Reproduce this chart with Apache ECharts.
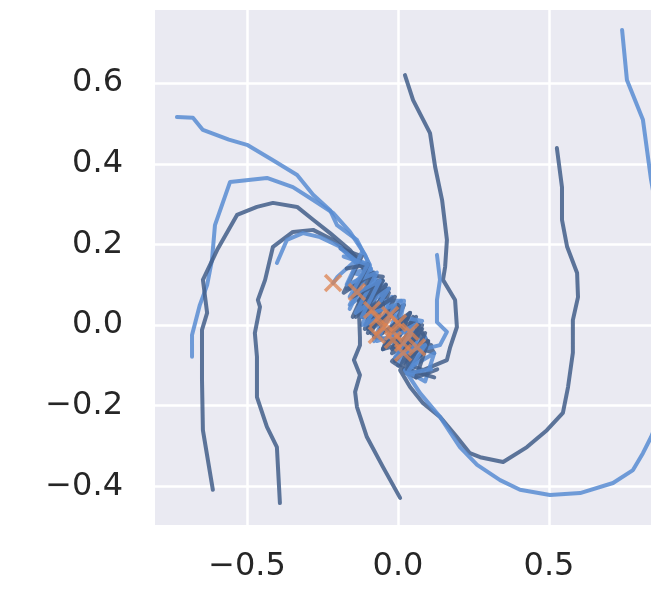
<!DOCTYPE html>
<html>
<head>
    <meta charset="UTF-8">
    <title>Trajectories</title>
    <script src="https://cdn.jsdelivr.net/npm/echarts@6/dist/echarts.min.js"></script>
    <style>
        html, body { margin: 0; padding: 0; background: #fff; }
        #chart { width: 651px; height: 592px; }
    </style>
</head>
<body>
    <div id="chart"></div>
    <script>
        // axis ticks
        const xTicks = [-0.5, 0.0, 0.5];
        const yTicks = [-0.4, -0.2, 0.0, 0.2, 0.4, 0.6];

        // trajectories, [x, y] pairs
        const traj1 = [[-0.732,0.516],[-0.679,0.514],[-0.646,0.484],[-0.560,0.460],[-0.5,0.447],[-0.414,0.409],[-0.334,0.372],[-0.281,0.323],[-0.225,0.285],[-0.202,0.248],[-0.136,0.211],[-0.093,0.149],
            [-0.13,0.16],[-0.07,0.12],[-0.13,0.03],[-0.04,0.10],[-0.10,-0.01],[0.01,0.06],[-0.05,-0.06],[0.06,0.01],[0.0,-0.10],[0.10,-0.04],[0.04,-0.12],[0.017,-0.045]];
        const traj2 = [[-0.682,-0.079],[-0.682,-0.025],[-0.656,0.050],[-0.632,0.099],[-0.616,0.161],[-0.606,0.248],[-0.556,0.355],[-0.434,0.365],[-0.348,0.342],[-0.281,0.310],[-0.215,0.278],[-0.159,0.231],[-0.109,0.174],[-0.076,0.112],
            [-0.15,0.13],[-0.09,0.14],[-0.16,0.05],[-0.05,0.11],[-0.12,0.0],[-0.02,0.07],[-0.08,-0.04],[-0.026,0.025]];
        const traj3 = [[-0.613,-0.409],[-0.646,-0.261],[-0.649,-0.136],[-0.649,-0.012],[-0.632,0.030],[-0.646,0.112],[-0.599,0.186],[-0.533,0.273],[-0.467,0.293],[-0.414,0.303],[-0.334,0.293],[-0.281,0.261],[-0.225,0.228],[-0.159,0.186],[-0.093,0.124],
            [-0.05,0.12],[-0.13,0.06],[-0.03,0.09],[-0.10,-0.01],[0.02,0.05],[-0.05,-0.06],[0.06,0.02],[-0.01,-0.09],[0.08,-0.01],[0.04,-0.017]];
        const traj4 = [[-0.391,-0.442],[-0.401,-0.303],[-0.434,-0.253],[-0.467,-0.179],[-0.467,-0.079],[-0.474,-0.020],[-0.457,0.045],[-0.464,0.062],[-0.440,0.112],[-0.414,0.194],[-0.348,0.231],[-0.281,0.236],[-0.215,0.211],[-0.142,0.166],[-0.086,0.112],
            [-0.16,0.09],[-0.09,0.12],[-0.15,0.02],[-0.06,0.10],[-0.11,-0.01],[-0.086,0.037]];
        const traj5 = [[-0.401,0.154],[-0.368,0.211],[-0.315,0.228],[-0.258,0.218],[-0.192,0.194],[-0.142,0.156],[-0.09,0.14],[-0.17,0.09],[-0.10,0.13],[-0.16,0.04],[-0.136,0.082]];
        const traj6 = [[0.007,-0.429],[-0.050,-0.352],[-0.103,-0.278],[-0.136,-0.203],[-0.142,-0.166],[-0.126,-0.124],[-0.146,-0.087],[-0.126,-0.050],[-0.126,-0.030],
            [-0.13,0.05],[-0.06,0.10],[-0.12,0.02],[-0.03,0.08],[-0.09,-0.02],[-0.07,-0.025]];
        const traj7 = [[0.023,0.620],[0.050,0.558],[0.106,0.476],[0.123,0.392],[0.146,0.310],[0.162,0.211],[0.156,0.144],[0.149,0.112],[0.189,0.062],[0.195,-0.005],[0.172,-0.057],[0.162,-0.087],[0.083,-0.112],[0.040,-0.099],
            [0.11,-0.05],[0.02,-0.11],[0.08,0.0],[0.0,-0.08],[0.05,0.02],[0.12,-0.07],[0.063,-0.055]];
        const traj8 = [[0.129,0.174],[0.139,0.112],[0.129,0.062],[0.129,0.007],[0.162,-0.017],[0.139,-0.050],[0.073,-0.062],
            [0.03,-0.01],[0.08,0.01],[0.01,0.02],[0.02,0.06],[-0.04,0.06],[0.0,0.005]];
        const traj9 = [[0.526,0.439],[0.543,0.342],[0.543,0.261],[0.560,0.194],[0.593,0.129],[0.596,0.069],[0.579,0.012],[0.579,-0.069],[0.563,-0.154],[0.546,-0.218],[0.493,-0.261],[0.427,-0.303],[0.348,-0.340],[0.272,-0.328],[0.238,-0.318],[0.195,-0.278],[0.139,-0.228],[0.083,-0.194],[0.040,-0.154],[0.007,-0.112],
            [0.06,-0.13],[-0.02,-0.09],[0.05,-0.04],[-0.05,-0.06],[0.02,0.01],[-0.08,-0.03],[-0.017,-0.037]];
        const traj10 = [[0.742,0.732],[0.758,0.608],[0.811,0.509],[0.838,0.360],[0.90,0.10],[0.88,-0.20],[0.838,-0.278],[0.811,-0.318],[0.778,-0.360],[0.712,-0.392],[0.603,-0.417],[0.503,-0.422],[0.404,-0.409],[0.338,-0.385],[0.262,-0.347],[0.205,-0.303],[0.139,-0.228],[0.073,-0.169],[0.023,-0.112],
            [0.09,-0.14],[0.12,-0.07],[0.03,-0.11],[0.09,-0.03],[0.0,-0.08],[0.017,-0.069]];
        const traj11 = [[-0.19,0.19],[-0.12,0.17],[-0.18,0.08],[-0.08,0.13],[-0.14,0.02],[-0.04,0.10],[-0.10,-0.02],[0.0,0.05],[-0.05,-0.005]];
        const traj12 = [[-0.19,0.19],[-0.14,0.16],[-0.20,0.12],[-0.215,0.104]];
        const traj13 = [[0.13,-0.11],[0.06,-0.13],[0.10,-0.04],[0.01,-0.10],[0.07,0.0],[-0.02,-0.06],[0.04,0.03],[-0.017,-0.017]];
        const traj14 = [[-0.12,0.18],[-0.17,0.10],[-0.07,0.13],[-0.14,0.03],[-0.03,0.09],[-0.11,0.0],[-0.066,0.017]];
        const traj15 = [[0.12,-0.13],[0.03,-0.11],[0.09,-0.02],[-0.02,-0.07],[0.04,0.03],[-0.07,-0.03],[-0.01,0.07],[-0.12,0.02],[-0.05,0.11],[-0.15,0.07],[-0.10,0.15],[-0.17,0.14]];
        const traj16 = [[-0.18,0.17],[-0.10,0.15],[-0.16,0.07],[-0.06,0.11],[-0.12,0.02],[-0.01,0.05],[-0.07,-0.04],[0.05,-0.01],[-0.01,-0.08],[0.09,-0.05],[0.03,-0.12],[0.11,-0.11]];

        const trajectories = [traj1, traj2, traj3, traj4, traj5, traj6, traj7, traj8, traj9, traj10, traj11, traj12, traj13, traj14, traj15, traj16];
        // 0 = dark blue-grey, 1 = lighter blue
        const shade = [1, 1, 0, 0, 1, 0, 0, 1, 0, 1, 0, 1, 0, 1, 0, 1];

        // final points (orange crosses)
        const endPoints = [[-0.215,0.104],[-0.136,0.082],[-0.086,0.037],[-0.066,0.017],[-0.026,0.025],[-0.050,-0.005],[-0.017,-0.017],
            [0.0,0.005],[-0.070,-0.025],[-0.017,-0.037],[0.017,-0.045],[0.040,-0.017],[0.017,-0.069],[0.063,-0.055]];

        const lineColors = ['rgba(66, 94, 138, 0.85)', 'rgba(88, 140, 210, 0.85)'];

        function fmt(v) {
            const s = Math.abs(v) < 1e-9 ? '0.0' : v.toFixed(1);
            return s.replace('-', '\u2212');
        }

        const chart = echarts.init(document.getElementById('chart'), null, { renderer: 'canvas' });

        const series = trajectories.map((t, i) => ({
            type: 'line',
            data: t,
            showSymbol: false,
            silent: true,
            clip: true,
            lineStyle: { width: 4, color: lineColors[shade[i]], join: 'round', cap: 'round' },
            z: 2
        }));
        series.push({
            type: 'scatter',
            data: endPoints,
            symbol: 'path://M0,0L10,10M10,0L0,10',
            symbolSize: 16,
            itemStyle: { color: 'rgba(0,0,0,0)', borderColor: 'rgba(221, 132, 82, 0.95)', borderWidth: 3.5 },
            z: 5
        });

        const labelStyle = { fontFamily: 'DejaVu Sans', fontSize: 32, color: '#262626' };

        chart.setOption({
            animation: false,
            backgroundColor: '#ffffff',
            grid: { left: 155, right: 0, top: 10, bottom: 67, show: true, backgroundColor: '#EAEAF2', borderWidth: 0 },
            xAxis: {
                type: 'value',
                min: -0.8046,
                max: 0.8377,
                axisLine: { show: false },
                axisTick: { show: false, customValues: xTicks },
                axisLabel: Object.assign({ customValues: xTicks, margin: 26, formatter: fmt }, labelStyle),
                splitLine: { show: true, lineStyle: { color: '#ffffff', width: 2.5 } }
            },
            yAxis: {
                type: 'value',
                min: -0.4963,
                max: 0.7816,
                axisLine: { show: false },
                axisTick: { show: false, customValues: yTicks },
                axisLabel: Object.assign({ customValues: yTicks, margin: 32, formatter: fmt }, labelStyle),
                splitLine: { show: true, lineStyle: { color: '#ffffff', width: 2.5 } }
            },
            series: series
        });
    </script>
</body>
</html>
